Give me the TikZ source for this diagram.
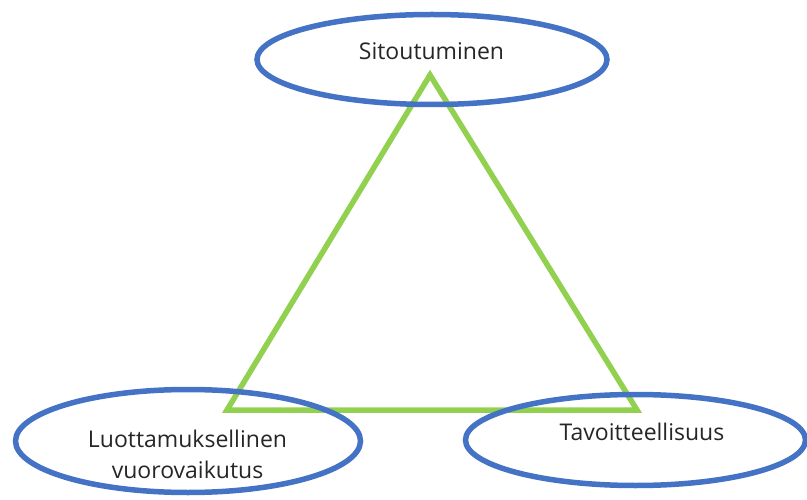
\documentclass[tikz,border=0pt]{standalone}
\usepackage{fontspec}
\setmainfont{Open Sans}
\usetikzlibrary{shapes.geometric}
\definecolor{ovalblue}{HTML}{4472C4}
\definecolor{trigreen}{HTML}{92D050}
\tikzset{
  oval/.style={ellipse, draw=ovalblue, line width=5.5bp, inner sep=0pt},
  lbl/.style={font=\fontsize{23bp}{31bp}\selectfont, text=black!85, align=center, inner sep=0pt},
  tri/.style={draw=trigreen, line width=5.5bp, line join=miter}
}
\begin{document}
\begin{tikzpicture}[x=1bp,y=-1bp]
\useasboundingbox (0,0) rectangle (807,500);
\coordinate (apex) at (430,75);
\coordinate (bl) at (227,410);
\coordinate (br) at (637,410);
\draw[tri] (apex) -- (bl) -- (br) -- cycle;
\node[oval, minimum width=350bp, minimum height=90bp] (o1) at (432,59.5) {};
\node[oval, minimum width=345bp, minimum height=103bp] (o2) at (188,441) {};
\node[oval, minimum width=340bp, minimum height=91bp] (o3) at (635.5,440) {};
\node[lbl, anchor=base] (t1) at (431.5,60) {Sitoutuminen};
\node[lbl, anchor=base] (t2) at (187.5,478) {Luottamuksellinen\\vuorovaikutus};
\node[lbl, anchor=base] (t3) at (642,440) {Tavoitteellisuus};
\end{tikzpicture}
\end{document}
